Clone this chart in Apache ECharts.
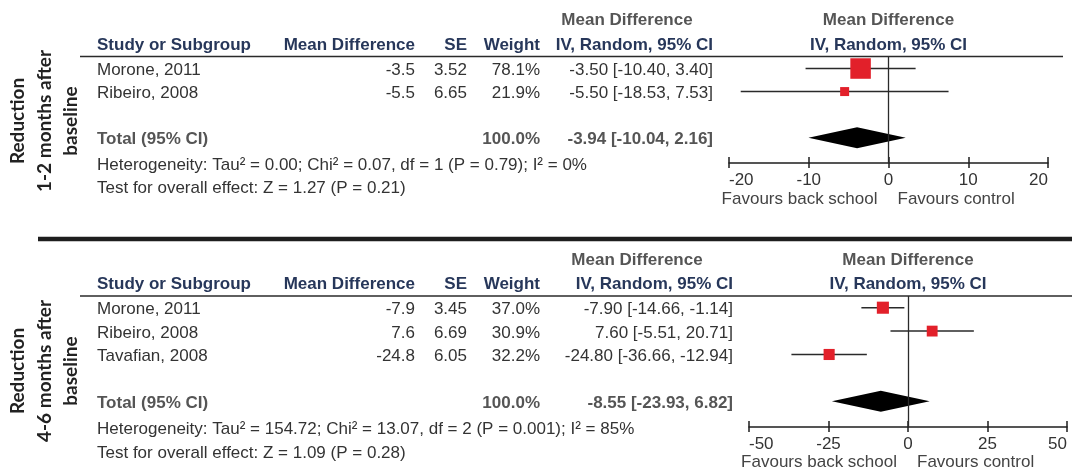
<!DOCTYPE html>
<html>
<head>
<meta charset="utf-8">
<script src="https://cdn.jsdelivr.net/npm/echarts@6/dist/echarts.min.js"></script>
<style>
  html, body { margin: 0; padding: 0; background: #fff; }
  #chart { width: 1072px; height: 469px; }
</style>
</head>
<body>
<div id="chart"></div>
<script>
// ---- Reduction 1-2 months after baseline ----
const studiesA = ['Morone, 2011', 'Ribeiro, 2008'];
const meanDiffA = [-3.5, -5.5];
const seA = [3.52, 6.65];
const weightA = [78.1, 21.9];
const ciLowA = [-10.40, -18.53];
const ciHighA = [3.40, 7.53];
const totalA = [-3.94, -10.04, 2.16];          // estimate, lower, upper
const totalWeightA = 100.0;
const hetA = 'Heterogeneity: Tau² = 0.00; Chi² = 0.07, df = 1 (P = 0.79); I² = 0%';
const testA = 'Test for overall effect: Z = 1.27 (P = 0.21)';
const ticksA = [-20, -10, 0, 10, 20];
const sideA = ['Reduction', '1-2 months after', 'baseline'];

// ---- Reduction 4-6 months after baseline ----
const studiesB = ['Morone, 2011', 'Ribeiro, 2008', 'Tavafian, 2008'];
const meanDiffB = [-7.9, 7.6, -24.8];
const seB = [3.45, 6.69, 6.05];
const weightB = [37.0, 30.9, 32.2];
const ciLowB = [-14.66, -5.51, -36.66];
const ciHighB = [-1.14, 20.71, -12.94];
const totalB = [-8.55, -23.93, 6.82];
const totalWeightB = 100.0;
const hetB = 'Heterogeneity: Tau² = 154.72; Chi² = 13.07, df = 2 (P = 0.001); I² = 85%';
const testB = 'Test for overall effect: Z = 1.09 (P = 0.28)';
const ticksB = [-50, -25, 0, 25, 50];
const sideB = ['Reduction', '4-6 months after', 'baseline'];

const favourLeft = 'Favours back school';
const favourRight = 'Favours control';

const FONT = '"Liberation Sans", Arial, sans-serif';
const FS = 17;
const TXT = '#333';
const NAVY = '#27375a';
const GREY = '#555';
const RED = '#e2202a';
const INK = '#1e1e1e';

const chart = echarts.init(document.getElementById('chart'), null, { renderer: 'canvas' });

// layout of each panel (pixels of the page)
const panels = [
  {
    studies: studiesA, md: meanDiffA, se: seA, w: weightA, lo: ciLowA, hi: ciHighA,
    total: totalA, totalW: totalWeightA, het: hetA, test: testA, ticks: ticksA, side: sideA,
    grid: { left: 729, width: 319, top: 57, height: 106 }, yMax: 4.1,
    head1Y: 20, head2Y: 45, ruleY: 56.5, ruleX2: 1063, ciRight: 713, ciHeadCenter: 627,
    hetY: 165, testY: 188, favY: 199, sideY: 121
  },
  {
    studies: studiesB, md: meanDiffB, se: seB, w: weightB, lo: ciLowB, hi: ciHighB,
    total: totalB, totalW: totalWeightB, het: hetB, test: testB, ticks: ticksB, side: sideB,
    grid: { left: 749, width: 318, top: 296, height: 131 }, yMax: 5.1,
    head1Y: 260, head2Y: 284, ruleY: 296, ruleX2: 1072, ciRight: 733, ciHeadCenter: 637,
    hetY: 429, testY: 453, favY: 462, sideY: 371
  }
];

const grids = [], xAxes = [], yAxes = [], series = [];

panels.forEach((p, i) => {
  grids.push(Object.assign({ containLabel: false }, p.grid));
  const min = p.ticks[0], max = p.ticks[p.ticks.length - 1], interval = p.ticks[1] - p.ticks[0];
  // main axis: line, labels and upward ticks
  xAxes.push({
    gridIndex: i, type: 'value', min, max, interval, position: 'bottom',
    axisLine: { show: true, onZero: false, lineStyle: { color: INK, width: 1.5 } },
    axisTick: { show: true, inside: true, length: 6, lineStyle: { color: INK, width: 1.5 } },
    axisLabel: {
      show: true, color: TXT, fontSize: FS, fontFamily: FONT, margin: 9,
      alignMinLabel: 'left', alignMaxLabel: 'right', showMinLabel: true, showMaxLabel: true
    },
    splitLine: { show: false }
  });
  // companion axis: the downward half of each tick
  xAxes.push({
    gridIndex: i, type: 'value', min, max, interval, position: 'bottom',
    axisLine: { show: false, onZero: false },
    axisTick: { show: true, inside: false, length: 5, lineStyle: { color: INK, width: 1.5 } },
    axisLabel: { show: false },
    splitLine: { show: false }
  });
  yAxes.push({
    gridIndex: i, type: 'value', inverse: true, min: -0.5, max: p.yMax, show: false,
    axisLine: { onZero: false }
  });

  const xIdx = i * 2;
  // confidence interval whiskers
  series.push({
    type: 'custom', xAxisIndex: xIdx, yAxisIndex: i, z: 2, silent: true,
    data: p.studies.map((s, r) => [p.lo[r], p.hi[r], r]),
    encode: { x: [0, 1], y: 2 },
    renderItem: (params, api) => {
      const a = api.coord([api.value(0), api.value(2)]);
      const b = api.coord([api.value(1), api.value(2)]);
      return {
        type: 'line',
        shape: { x1: a[0], y1: a[1], x2: b[0], y2: b[1] },
        style: { stroke: '#2a2a2a', lineWidth: 1.5 }
      };
    }
  });
  // study estimates, square size grows with weight
  series.push({
    type: 'scatter', xAxisIndex: xIdx, yAxisIndex: i, z: 3, silent: true,
    symbol: 'rect',
    symbolSize: (v) => 4.5 + 0.205 * v[2],
    itemStyle: { color: RED, opacity: 1 },
    data: p.studies.map((s, r) => [p.md[r], r, p.w[r]]),
    markLine: {
      silent: true, symbol: 'none', label: { show: false },
      lineStyle: { color: '#2a2a2a', width: 1.3, type: 'solid' },
      data: [{ xAxis: 0 }]
    }
  });
  // pooled estimate diamond
  series.push({
    type: 'custom', xAxisIndex: xIdx, yAxisIndex: i, z: 4, silent: true,
    data: [[p.total[0], p.total[1], p.total[2], p.studies.length + 1]],
    encode: { x: [0, 1, 2], y: 3 },
    renderItem: (params, api) => {
      const mid = api.coord([api.value(0), api.value(3)]);
      const l = api.coord([api.value(1), api.value(3)]);
      const r = api.coord([api.value(2), api.value(3)]);
      const h = 10.5;
      return {
        type: 'polygon',
        shape: { points: [[l[0], mid[1]], [mid[0], mid[1] - h], [r[0], mid[1]], [mid[0], mid[1] + h]] },
        style: { fill: '#000' }
      };
    }
  });
});

chart.setOption({
  animation: false,
  backgroundColor: '#fff',
  grid: grids,
  xAxis: xAxes,
  yAxis: yAxes,
  series: series
});

// ---- table text, rules and side titles ----
function txt(x, y, text, opts) {
  opts = opts || {};
  const align = opts.align || 'left';
  return {
    type: 'text', x, y, silent: true,
    rotation: opts.rotation || 0,
    style: {
      text,
      fill: opts.color || TXT,
      font: (opts.bold ? 'bold ' : '') + (opts.size || FS) + 'px ' + (opts.family || FONT),
      align, verticalAlign: 'middle',
      textAlign: align, textVerticalAlign: 'middle'
    }
  };
}
function rule(x1, y, x2, width, color) {
  return {
    type: 'line', silent: true,
    shape: { x1, y1: y, x2, y2: y },
    style: { stroke: color || '#2a2a2a', lineWidth: width || 1.5 }
  };
}

const COL_STUDY = 97, COL_MD = 415, COL_SE = 467, COL_W = 540;
const elements = [];

panels.forEach((p, i) => {
  const xIdx = i * 2;
  const zeroX = chart.convertToPixel({ xAxisIndex: xIdx }, 0);
  const rowY = (r) => chart.convertToPixel({ yAxisIndex: i }, r) + 2;

  // headers
  elements.push(txt(p.ciHeadCenter, p.head1Y, 'Mean Difference', { bold: true, color: GREY, align: 'center' }));
  elements.push(txt(zeroX, p.head1Y, 'Mean Difference', { bold: true, color: GREY, align: 'center' }));
  elements.push(txt(COL_STUDY, p.head2Y, 'Study or Subgroup', { bold: true, color: NAVY }));
  elements.push(txt(COL_MD, p.head2Y, 'Mean Difference', { bold: true, color: NAVY, align: 'right' }));
  elements.push(txt(COL_SE, p.head2Y, 'SE', { bold: true, color: NAVY, align: 'right' }));
  elements.push(txt(COL_W, p.head2Y, 'Weight', { bold: true, color: NAVY, align: 'right' }));
  elements.push(txt(p.ciRight, p.head2Y, 'IV, Random, 95% CI', { bold: true, color: NAVY, align: 'right' }));
  elements.push(txt(zeroX, p.head2Y, 'IV, Random, 95% CI', { bold: true, color: NAVY, align: 'center' }));
  elements.push(rule(80, p.ruleY, p.ruleX2, 1.5));

  // study rows
  p.studies.forEach((s, r) => {
    const y = rowY(r);
    elements.push(txt(COL_STUDY, y, s));
    elements.push(txt(COL_MD, y, String(p.md[r]), { align: 'right' }));
    elements.push(txt(COL_SE, y, p.se[r].toFixed(2), { align: 'right' }));
    elements.push(txt(COL_W, y, p.w[r].toFixed(1) + '%', { align: 'right' }));
    elements.push(txt(p.ciRight, y,
      p.md[r].toFixed(2) + ' [' + p.lo[r].toFixed(2) + ', ' + p.hi[r].toFixed(2) + ']', { align: 'right' }));
  });

  // pooled row
  const ty = rowY(p.studies.length + 1);
  elements.push(txt(COL_STUDY, ty, 'Total (95% CI)', { bold: true, color: GREY }));
  elements.push(txt(COL_W, ty, p.totalW.toFixed(1) + '%', { bold: true, color: GREY, align: 'right' }));
  elements.push(txt(p.ciRight, ty,
    p.total[0].toFixed(2) + ' [' + p.total[1].toFixed(2) + ', ' + p.total[2].toFixed(2) + ']',
    { bold: true, color: GREY, align: 'right' }));

  elements.push(txt(COL_STUDY, p.hetY, p.het));
  elements.push(txt(COL_STUDY, p.testY, p.test));

  // direction labels under the axis
  elements.push(txt(zeroX - 11, p.favY, favourLeft, { align: 'right', color: '#444' }));
  elements.push(txt(zeroX + 9, p.favY, favourRight, { color: '#444' }));

  // rotated panel title
  const sideX = [18, 45, 71];
  p.side.forEach((line, k) => {
    elements.push(txt(sideX[k], p.sideY, line, {
      bold: true, size: 19, family: 'Lato, "Open Sans", sans-serif', color: '#222',
      align: 'center', rotation: Math.PI / 2
    }));
  });
});

// heavy divider between the two panels
elements.push(rule(38, 239, 1072, 4.5, '#1e1e1e'));

chart.setOption({ graphic: { elements } });
</script>
</body>
</html>
